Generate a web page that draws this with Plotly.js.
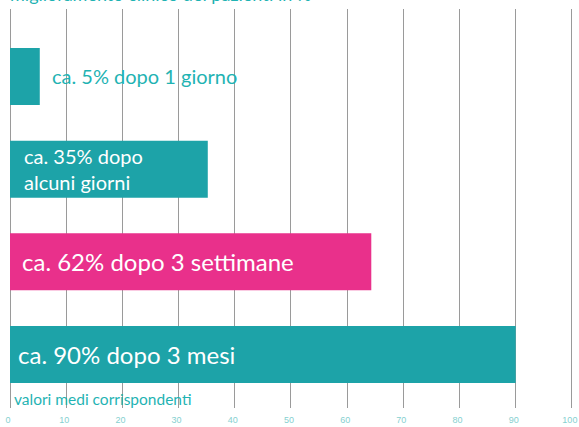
<!DOCTYPE html>
<html><head><meta charset="utf-8">
<script src="https://cdn.plot.ly/plotly-3.0.1.min.js"></script>
<style>html,body{margin:0;padding:0;background:#fff}#c{width:579px;height:427px}</style>
</head><body><div id="c"></div>
<script>
const categories = ["1 giorno", "alcuni giorni", "3 settimane", "3 mesi"];
const values = [5.3, 35.2, 64.3, 90];
const labels = ["ca. 5% dopo 1 giorno", "ca. 35% dopo<br>alcuni giorni", "ca. 62% dopo 3 settimane", "ca. 90% dopo 3 mesi"];
const barColors = ["#1da3a8", "#1da3a8", "#e9308b", "#1da3a8"];
const xTicks = [0, 10, 20, 30, 40, 50, 60, 70, 80, 90, 100];

const labelX = [7.2, 2.1, 1.8, 1.0];
const labelSize = [20, 20, 24, 24];
const labelColor = ["#1fb3b3", "#ffffff", "#ffffff", "#ffffff"];

const annotations = categories.map((c, i) => ({
  x: labelX[i], y: c, xref: "x", yref: "y", xanchor: "left", yanchor: "middle",
  text: labels[i], showarrow: false, align: "left",
  font: {family: "Lato, sans-serif", size: labelSize[i], color: labelColor[i]}
}));
annotations.push({
  xref: "paper", yref: "paper", x: -0.004, y: 1.038, xanchor: "left", yanchor: "middle",
  text: "miglioramento clinico dei pazienti in %", showarrow: false,
  font: {family: "Lato, sans-serif", size: 18, color: "#1fb3b3"}
});
annotations.push({
  xref: "paper", yref: "paper", x: 0.003, y: 0.022, xanchor: "left", yanchor: "middle",
  text: "valori medi corrispondenti", showarrow: false,
  font: {family: "Lato, sans-serif", size: 15.5, color: "#1fb3b3"}
});

Plotly.newPlot("c", [{
  type: "bar", orientation: "h", x: values, y: categories,
  marker: {color: barColors}, width: 0.615, hoverinfo: "none"
}], {
  width: 579, height: 427,
  margin: {l: 10, r: 6, t: 9, b: 19},
  paper_bgcolor: "#fff", plot_bgcolor: "#fff",
  showlegend: false,
  xaxis: {
    range: [0, 100.2], tickvals: xTicks, ticktext: xTicks.map(String),
    showgrid: true, gridcolor: "#9a9a9a", gridwidth: 1,
    zeroline: true, zerolinecolor: "#9a9a9a", zerolinewidth: 1,
    showline: false, ticks: "", ticklabelstandoff: 5, ticklabeloverflow: "allow",
    ticklabelshift: -2,
    tickfont: {family: "'Liberation Sans Narrow', 'Liberation Sans', sans-serif", stretch: "condensed", size: 9, color: "#86d0d0"}, fixedrange: true
  },
  yaxis: {
    type: "category", range: [3.577, -0.728], showgrid: false, zeroline: false,
    showticklabels: false, ticks: "", fixedrange: true
  },
  annotations: annotations
}, {staticPlot: true});
</script></body></html>
